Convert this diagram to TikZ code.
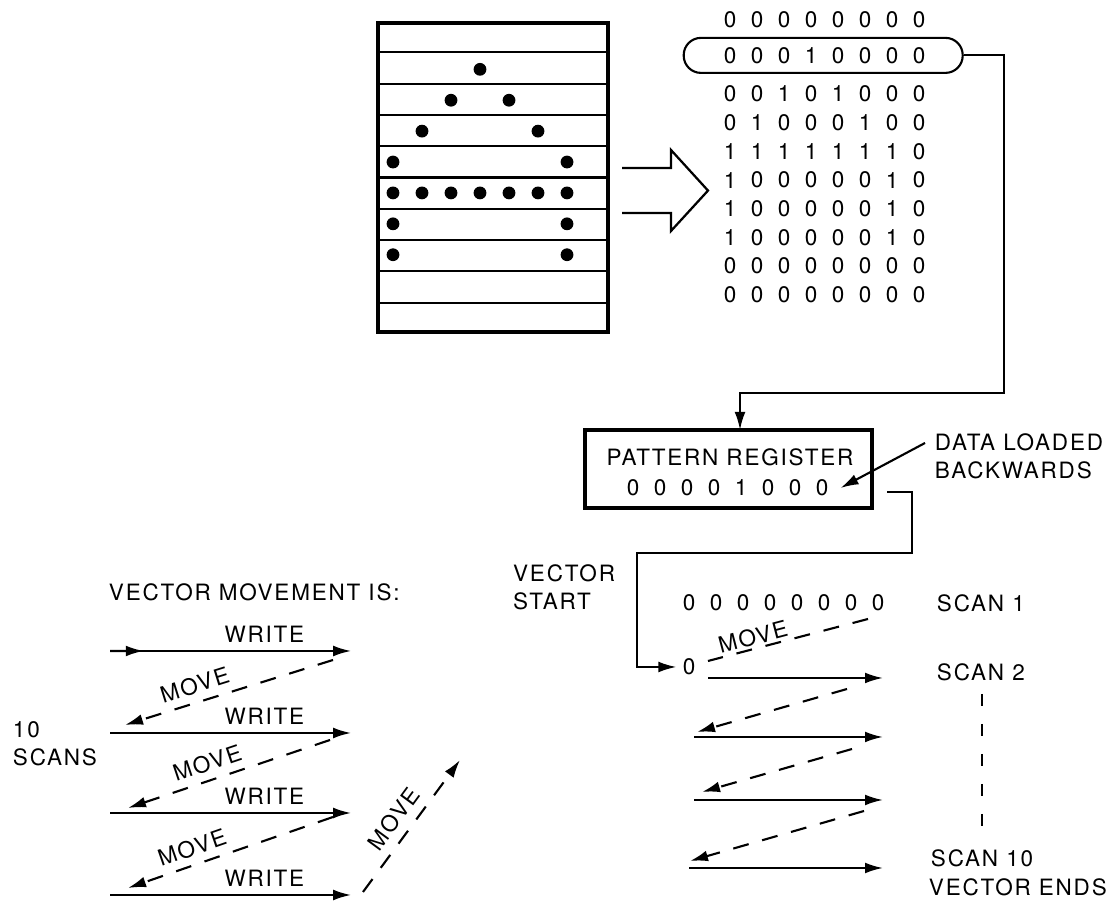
\documentclass[tikz,border=0pt]{standalone}
\usepackage{fontspec}
\setmainfont{TeX Gyre Heros}
\newfontfamily\lblfont{TeX Gyre Heros}[LetterSpace=8]
\usepackage{tikz}
\usetikzlibrary{arrows.meta,positioning,calc}

% one row of bits: name, first x, y, bits
\newcommand{\bitrow}[4]{%
  \foreach \b [count=\c] in {#4}
    \node[digit] (#1-\c) at ({#2+0.675*(\c-1)},#3) {\b};}

\begin{document}
\begin{tikzpicture}[
  >={Latex[length=0.45cm,width=0.27cm]},
  lbl/.style={font=\lblfont\fontsize{16}{20}\selectfont, inner sep=0.5pt},
  digit/.style={font=\fontsize{16}{19}\selectfont, inner sep=0pt},
  dot/.style={circle, fill=black, minimum size=0.32cm, inner sep=0pt},
  gridbox/.style={draw, line width=2.8pt, minimum width=5.75cm,
                  minimum height=7.725cm, inner sep=0pt},
  capsule/.style={draw, line width=1.5pt, rounded corners=0.43cm,
                  minimum width=6.975cm, minimum height=0.875cm},
  regbox/.style={draw, line width=2.6pt, minimum width=7.175cm,
                 minimum height=1.95cm},
  link/.style={line width=1.5pt},
  wr/.style={->, line width=1.5pt},
  mv/.style={->, line width=1.5pt, dash pattern=on 0.4cm off 0.35cm},
]
\useasboundingbox (0,0) rectangle (28,22.525);

% Character grid
\node[gridbox] (grid) at (12.325,18.0875) {};
\foreach \r in {1,...,9}
  \draw[link] ($(grid.north west)!\r/10!(grid.south west)$)
           -- ($(grid.north east)!\r/10!(grid.south east)$);
\foreach \r/\c in {2/4, 3/3, 3/5, 4/2, 4/6, 5/1, 5/7,
                   6/1, 6/2, 6/3, 6/4, 6/5, 6/6, 6/7, 7/1, 7/7, 8/1, 8/7}
  \node[dot] (d-\r-\c) at ({9.825+0.725*(\c-1)}, {21.95-0.7725*(\r-0.5)}) {};

% Hollow arrow
\draw[line width=1.6pt] (15.55,18.325) -- (16.775,18.325) -- (16.775,18.775)
  -- (17.7,17.76) -- (16.775,16.75) -- (16.775,17.2) -- (15.55,17.2);

% Bit matrix
\bitrow{ma}{18.25}{22.025}{0,0,0,0,0,0,0,0}
\bitrow{mb}{18.25}{21.125}{0,0,0,1,0,0,0,0}
\bitrow{mc}{18.25}{20.175}{0,0,1,0,1,0,0,0}
\bitrow{md}{18.25}{19.4575}{0,1,0,0,0,1,0,0}
\bitrow{me}{18.25}{18.74}{1,1,1,1,1,1,1,0}
\bitrow{mf}{18.25}{18.0225}{1,0,0,0,0,0,1,0}
\bitrow{mg}{18.25}{17.305}{1,0,0,0,0,0,1,0}
\bitrow{mh}{18.25}{16.5875}{1,0,0,0,0,0,1,0}
\bitrow{mi}{18.25}{15.87}{0,0,0,0,0,0,0,0}
\bitrow{mj}{18.25}{15.1525}{0,0,0,0,0,0,0,0}
\node[capsule] (cap) at (20.58,21.14) {};

% Pattern register
\node[regbox] (reg) at (18.2125,10.8) {};
\node[lbl] (regname) at (18.25,11.1) {PATTERN REGISTER};
\bitrow{r}{15.825}{10.325}{0,0,0,0,1,0,0,0}
\coordinate (regin) at (18.5,11.775);
\draw[link,->] (cap.east) -| (25.1,12.7) -| (regin);

\node[lbl, align=left, anchor=west] (data) at (23.35,11.11) {DATA LOADED\\BACKWARDS};
\draw[link,->] ([shift={(-0.225,0.34)}]data.west) -- ([xshift=0.3cm]r-8.east);

% Vector start
\node[lbl, align=left, anchor=east] (vstart) at (15.4,7.84) {VECTOR\\START};
\bitrow{s}{17.225}{7.45}{0,0,0,0,0,0,0,0}
\node[digit] (v0) at (17.225,5.85) {0};
\coordinate (regout) at (22.175,10.225);
\draw[link,->, shorten >=0.15cm] (regout) -| (22.8,8.7) -| (15.925,5.85) -- (v0);

\node[lbl, anchor=west] (scan1) at (23.4,7.45) {SCAN 1};
\node[lbl, anchor=west] (scan2) at (23.4,5.725) {SCAN 2};
\node[lbl, anchor=west] (scan10) at (23.25,1.075) {SCAN 10};
\node[lbl, anchor=west] (vend) at (23.2,0.33) {VECTOR ENDS};
\coordinate (t1) at (24.55,5.175);
\coordinate (t2) at (24.55,1.675);
\draw[link, dash pattern=on 0.3cm off 0.45cm] (t1) -- (t2);

% Scans, right
\coordinate (m0s) at (21.7,7.05);
\coordinate (m0e) at (17.7,6.0);
\draw[mv,-] (m0s) -- node[lbl, sloped, above=1pt, pos=0.7] {MOVE} (m0e);
\foreach \n/\xa/\y in {1/17.7/5.575, 2/17.35/4.1, 3/17.35/2.525, 4/17.225/0.825} {
  \coordinate (ws\n) at (\xa,\y);
  \coordinate (we\n) at (22.075,\y);
  \draw[wr] (ws\n) -- (we\n);
}
\foreach \n/\xa/\ya/\xb/\yb in {1/21.175/5.3/17.425/4.225,
                               2/21.3/3.8/17.55/2.725,
                               3/21.6/2.25/17.25/1.0} {
  \coordinate (ms\n) at (\xa,\ya);
  \coordinate (me\n) at (\xb,\yb);
  \draw[mv] (ms\n) -- (me\n);
}

% Legend, left
\node[lbl, anchor=west] (vmove) at (2.7,7.725) {VECTOR MOVEMENT IS:};
\node[lbl, align=left, anchor=west] (scans) at (0.3,3.925) {10\\SCANS};
\foreach \n/\y in {1/6.25, 2/4.2, 3/2.2, 4/0.15} {
  \coordinate (lws\n) at (2.75,\y);
  \coordinate (lwe\n) at (8.78,\y);
  \draw[wr] (lws\n) -- node[lbl, above=5pt, pos=0.64] {WRITE} (lwe\n);
}
\draw[wr] (lws1) -- ($(lws1)!0.14!(lwe1)$);
\foreach \n/\xa/\ya/\xb/\yb/\p in {1/8.325/6.025/3.125/4.4/0.64,
                                  2/8.25/4.025/3.2/2.325/0.58,
                                  3/8.325/2.1/3.2/0.325/0.66} {
  \coordinate (lms\n) at (\xa,\ya);
  \coordinate (lme\n) at (\xb,\yb);
  \draw[mv] (lms\n) -- node[lbl, sloped, above=5pt, pos=\p] {MOVE} (lme\n);
}
\coordinate (ups) at (9.075,0.225);
\coordinate (upe) at (11.5,3.525);
\draw[mv] (ups) -- node[lbl, sloped, above=6pt, pos=0.47] {MOVE} (upe);

\end{tikzpicture}
\end{document}
